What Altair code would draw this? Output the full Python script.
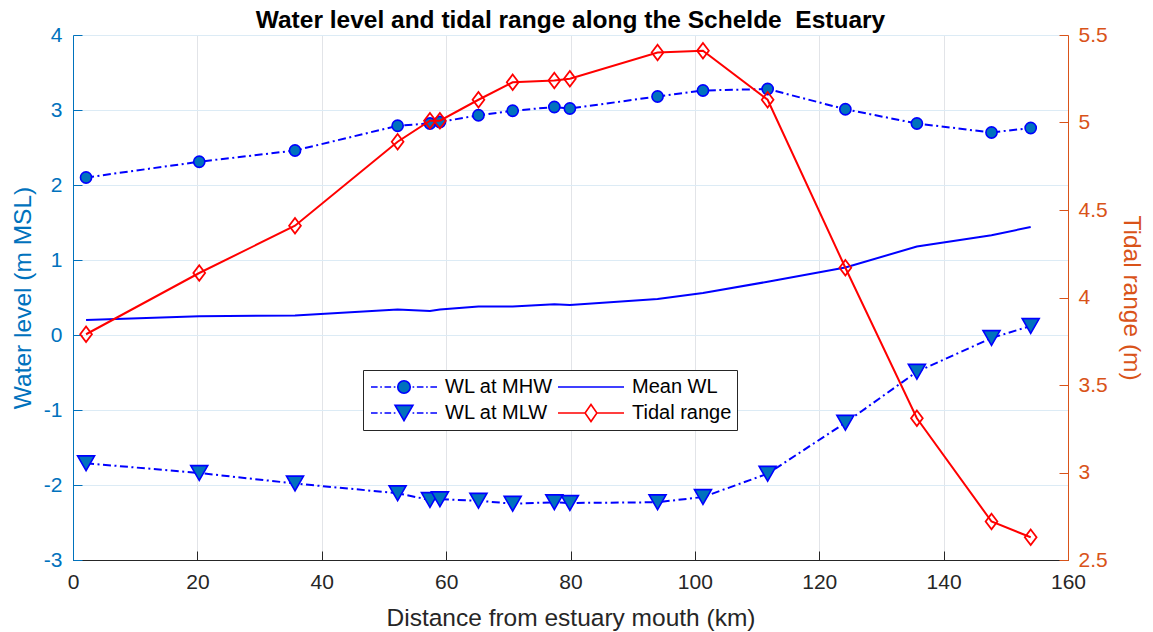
import altair as alt
import pandas as pd

# ---- data ----
distance_km = [2.1, 20.3, 35.7, 52.2, 57.4, 59.0, 65.2, 70.7, 77.4, 79.9,
               94.0, 101.3, 111.7, 124.2, 135.7, 147.7, 154.0]
wl_mhw = [2.10, 2.31, 2.46, 2.79, 2.82, 2.84, 2.93, 2.99, 3.04, 3.02,
          3.18, 3.26, 3.28, 3.01, 2.82, 2.70, 2.76]
wl_mlw = [-1.71, -1.84, -1.98, -2.11, -2.20, -2.19, -2.21, -2.25, -2.23, -2.24,
          -2.23, -2.16, -1.85, -1.17, -0.49, -0.04, 0.12]
wl_mean = [0.20, 0.25, 0.26, 0.34, 0.32, 0.34, 0.38, 0.38, 0.41, 0.40,
           0.48, 0.56, 0.71, 0.90, 1.18, 1.33, 1.44]
tidal_range = [3.79, 4.14, 4.41, 4.89, 5.01, 5.01, 5.13, 5.23, 5.24, 5.25,
               5.40, 5.41, 5.13, 4.17, 3.31, 2.72, 2.63]

x_ticks = [0, 20, 40, 60, 80, 100, 120, 140, 160]
left_ticks = [-3, -2, -1, 0, 1, 2, 3, 4]
right_ticks = [2.5, 3, 3.5, 4, 4.5, 5, 5.5]
legend_order = ["WL at MHW", "WL at MLW", "Mean WL", "Tidal range"]

rows = []
for name, vals in [("WL at MHW", wl_mhw), ("WL at MLW", wl_mlw),
                   ("Mean WL", wl_mean), ("Tidal range", tidal_range)]:
    for x, v in zip(distance_km, vals):
        rows.append({"distance": x, "value": v, "series": name})
df = pd.DataFrame(rows)

FONT = "Liberation Sans"
BLUE_AX = "#0072BD"
ORANGE_AX = "#D95319"
DARK = "#262626"

color_scale = alt.Scale(domain=legend_order,
                        range=["#0000FF", "#0000FF", "#0000FF", "#FF0000"])

# ---- legend symbol paths (line + marker drawn as one path) ----
dd_left = "M-1,0H-0.8M-0.72,0H-0.67M-0.59,0H-0.39M-0.31,0H-0.26"
dd_right = "M1,0H0.8M0.72,0H0.67M0.59,0H0.39M0.31,0H0.26"
p_mhw = dd_left + dd_right + "M-0.19,0A0.19,0.19,0,1,0,0.19,0A0.19,0.19,0,1,0,-0.19,0Z"
p_mlw = dd_left + dd_right + "M-0.27,-0.23L0.27,-0.23L0,0.23Z"
p_mean = "M-1,0H1"
p_tr = "M-1,0H-0.18M0.18,0H1M0,-0.26L0.18,0L0,0.26L-0.18,0Z"

shape_expr = ("datum.value === 'WL at MHW' ? '%s' : datum.value === 'WL at MLW' ? '%s' : "
              "datum.value === 'Mean WL' ? '%s' : '%s'") % (p_mhw, p_mlw, p_mean, p_tr)
fill_expr = ("datum.value === 'WL at MHW' || datum.value === 'WL at MLW' ? '%s' : 'transparent'"
             % BLUE_AX)

legend = alt.Legend(
    title=None, orient="none", legendX=290, legendY=335, columns=2,
    padding=5, fillColor="white", strokeColor="#262626",
    labelFont=FONT, labelFontSize=20, labelColor="black", labelOffset=7,
    columnPadding=2, rowPadding=2, symbolSize=4356, clipHeight=24,
    symbolOffset=2, labelLimit=400,
    symbolType={"expr": shape_expr},
    symbolFillColor={"expr": fill_expr},
    symbolStrokeWidth=1.6,
    symbolDash=[],
    symbolOpacity=1,
)

num_label = "datum.value + ''"

x_enc = alt.X("distance:Q", scale=alt.Scale(domain=[0, 160], nice=False, zero=False),
              axis=alt.Axis(values=x_ticks, title="Distance from estuary mouth (km)",
                            grid=True, gridColor="#e2e4e8", gridWidth=1, labelFlush=False,
                            domainColor=DARK, tickColor=DARK, tickSize={"expr": "-9"},
                            labelPadding=20, labelFont=FONT, labelFontSize=21,
                            labelColor=DARK, titleFont=FONT, titleFontSize=24.5,
                            titleFontWeight="normal", titleColor=DARK, titlePadding=14))

left_axis = alt.Axis(values=left_ticks, title="Water level (m MSL)", orient="left",
                     grid=True, gridColor="#dcebf5", gridWidth=1, labelExpr=num_label,
                     labelFlush=False,
                     domainColor=BLUE_AX, tickColor=BLUE_AX, tickSize={"expr": "-9"},
                     labelPadding=20, labelFont=FONT, labelFontSize=21,
                     labelColor=BLUE_AX, titleFont=FONT, titleFontSize=24.5,
                     titleFontWeight="normal", titleColor=BLUE_AX, titlePadding=8)
right_axis = alt.Axis(values=right_ticks, title="Tidal range (m)", orient="right",
                      grid=False, labelExpr=num_label, labelFlush=False,
                      domainColor=ORANGE_AX, tickColor=ORANGE_AX, tickSize={"expr": "-9"},
                      labelPadding=19, labelFont=FONT, labelFontSize=21,
                      labelColor=ORANGE_AX, titleFont=FONT, titleFontSize=24.5,
                      titleFontWeight="normal", titleColor=ORANGE_AX, titlePadding=11)

y_left = alt.Y("value:Q", scale=alt.Scale(domain=[-3, 4], nice=False, zero=False), axis=left_axis)
y_right = alt.Y("value:Q", scale=alt.Scale(domain=[2.5, 5.5], nice=False, zero=False), axis=right_axis)
color_enc = alt.Color("series:N", scale=color_scale, legend=legend)

base = alt.Chart(df)

mhw_line = base.transform_filter(alt.datum.series == "WL at MHW").mark_line(
    strokeWidth=2, strokeDash=[8, 3.5, 2, 3.5]).encode(x=x_enc, y=y_left, color=color_enc)
mhw_pts = base.transform_filter(alt.datum.series == "WL at MHW").mark_point(
    shape="circle", size=125, filled=True, fill=BLUE_AX, stroke="#0000FF",
    strokeWidth=1.6, opacity=1).encode(x=x_enc, y=y_left)
mlw_line = base.transform_filter(alt.datum.series == "WL at MLW").mark_line(
    strokeWidth=2, strokeDash=[8, 3.5, 2, 3.5]).encode(x=x_enc, y=y_left, color=color_enc)
mlw_pts = base.transform_filter(alt.datum.series == "WL at MLW").mark_point(
    shape="triangle-down", size=290, filled=True, fill=BLUE_AX, stroke="#0000FF",
    strokeWidth=1.6, opacity=1).encode(x=x_enc, y=y_left)
mean_line = base.transform_filter(alt.datum.series == "Mean WL").mark_line(
    strokeWidth=2).encode(x=x_enc, y=y_left, color=color_enc)

tr_line = base.transform_filter(alt.datum.series == "Tidal range").mark_line(
    strokeWidth=2).encode(x=x_enc, y=y_right, color=color_enc)
tr_pts = base.transform_filter(alt.datum.series == "Tidal range").mark_point(
    shape="M0,-1.3L0.98,0L0,1.3L-0.98,0Z", size=144, filled=False,
    stroke="#FF0000", strokeWidth=1.8, opacity=1).encode(x=x_enc, y=y_right)

left_layer = alt.layer(mean_line, mhw_line, mlw_line, mhw_pts, mlw_pts)
right_layer = alt.layer(tr_line, tr_pts)

chart = alt.layer(left_layer, right_layer).resolve_scale(y="independent").properties(
    width=995, height=525,
    padding={"left": 73, "top": 35, "right": 85, "bottom": 72},
    autosize=alt.AutoSizeParams(type="none"),
    title=alt.TitleParams("Water level and tidal range along the Schelde\u00a0 Estuary",
                          font=FONT, fontSize=24.5, fontWeight="bold", color="black",
                          anchor="middle", frame="group", offset=-9),
    background="white",
).configure_view(stroke=None)

chart.save("out.html", embed_options={"renderer": "svg", "actions": False})
